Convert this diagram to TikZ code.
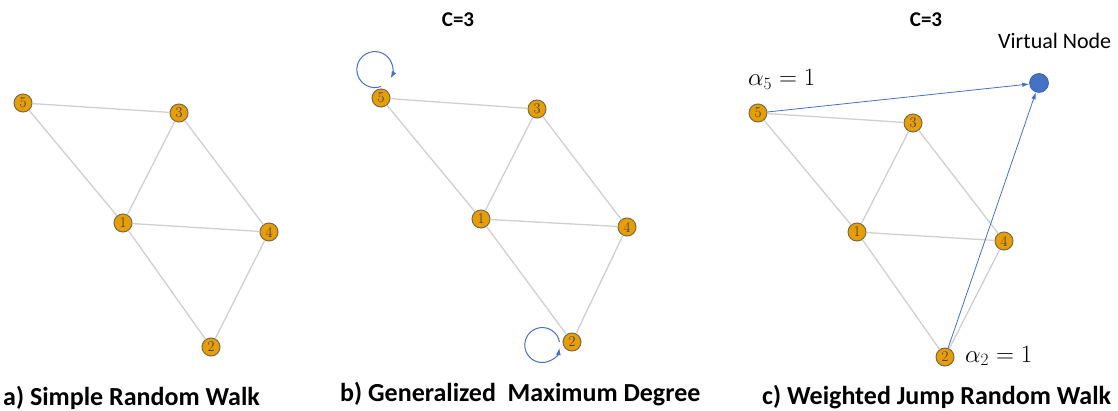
\documentclass[tikz,border=0pt]{standalone}
\usepackage{fontspec}
\setsansfont{Carlito}
\usetikzlibrary{arrows.meta}

\begin{document}
\begin{tikzpicture}[x=1pt,y=1pt]

	%DEFINICIONES
	\definecolor{naranja}{RGB}{230,159,0}
	\definecolor{azul}{RGB}{68,114,196}
	\tikzstyle{vertice} = [circle, draw={rgb,255:red,120;green,105;blue,80}, line width=1pt, fill=naranja, minimum size=18pt, inner sep=0pt, font=\fontsize{15}{15}\selectfont, text={rgb,255:red,60;green,50;blue,110}]
	\tikzstyle{virtual} = [circle, draw=azul!80!black, line width=0.6pt, fill=azul, minimum size=19pt, inner sep=0pt]
	\tikzstyle{arista} = [line width=1.3pt, draw={rgb,255:red,208;green,208;blue,208}]
	\tikzstyle{flecha} = [-{Latex[length=7pt,width=4.5pt]}, line width=0.8pt, draw=azul]
	\tikzstyle{bucle} = [-{Latex[length=7pt,width=5pt]}, line width=1pt, draw=azul]
	\tikzstyle{titulo} = [anchor=base, font=\sffamily\bfseries\fontsize{21}{24}\selectfont]
	\tikzstyle{pie} = [anchor=base west, inner sep=0pt, font=\sffamily\bfseries\fontsize{26}{30}\selectfont]
	\tikzstyle{peso} = [anchor=base west, inner sep=0pt, font=\fontsize{23}{26}\selectfont]

	\useasboundingbox (0,0) rectangle (1118,-411);

	%NODOS a)
	\draw(23,-103) node[vertice](a5){5};
	\draw(179,-113) node[vertice](a3){3};
	\draw(123,-223) node[vertice](a1){1};
	\draw(269,-232) node[vertice](a4){4};
	\draw(211,-347) node[vertice](a2){2};

	%NODOS b)
	\draw(381,-98) node[vertice](b5){5};
	\draw(537,-109) node[vertice](b3){3};
	\draw(481,-219) node[vertice](b1){1};
	\draw(627,-227) node[vertice](b4){4};
	\draw(572,-342) node[vertice](b2){2};

	%NODOS c)
	\draw(758,-113) node[vertice](c5){5};
	\draw(913,-123) node[vertice](c3){3};
	\draw(857,-232) node[vertice](c1){1};
	\draw(1004,-241) node[vertice](c4){4};
	\draw(945,-357) node[vertice](c2){2};
	\draw(1039,-83) node[virtual](v){};

	%ARISTAS
	\foreach \p in {a,b,c}{
		\draw[arista] (\p5) -- (\p3);
		\draw[arista] (\p5) -- (\p1);
		\draw[arista] (\p3) -- (\p1);
		\draw[arista] (\p3) -- (\p4);
		\draw[arista] (\p1) -- (\p4);
		\draw[arista] (\p1) -- (\p2);
		\draw[arista] (\p4) -- (\p2);
	}

	%BUCLES
	\draw[bucle] ([yshift=2pt]b5.north) arc[start angle=-70, end angle=-389, radius=18];
	\draw[bucle] ([xshift=-3pt]b2.west) arc[start angle=10, end angle=350, radius=17.5];

	%SALTOS AL NODO VIRTUAL
	\draw[flecha] (c5) -- (v);
	\draw[flecha] (c2) -- (v);

	%TEXTOS
	\draw(458,-27) node[titulo](tb){C=3};
	\draw(926,-27) node[titulo](tc){C=3};
	\draw(998,-49) node[anchor=base west, inner sep=0pt, font=\sffamily\fontsize{22}{26}\selectfont](tv){Virtual Node};
	\draw(748,-86) node[peso](w5){$\alpha_5 = 1$};
	\draw(965,-362) node[peso](w2){$\alpha_2 = 1$};
	\draw(3,-405) node[pie](pa){a) Simple Random Walk};
	\draw(340,-401) node[pie](pb){b) Generalized\ \ Maximum Degree};
	\draw(762,-404) node[pie](pc){c) Weighted Jump Random Walk};
\end{tikzpicture}
\end{document}
